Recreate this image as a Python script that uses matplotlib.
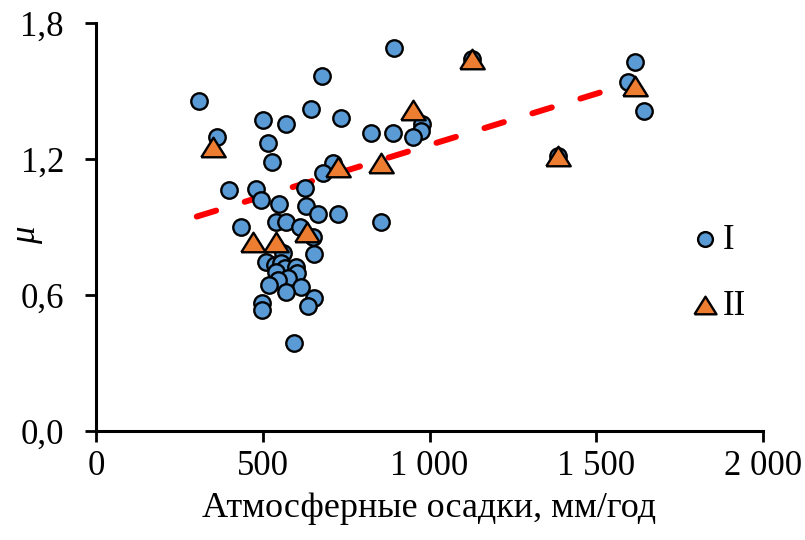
import numpy as np
import matplotlib.pyplot as plt

# series I (circles)
x1 = [308, 895, 677, 645, 501, 569, 735, 362, 515, 529, 825, 892, 978, 973, 950,
      710, 680, 398, 479, 496, 626, 549, 631, 667, 727, 855, 436, 541, 569, 611,
      652, 654, 561, 510, 536, 555, 566, 601, 541, 604, 576, 546, 519, 614, 570,
      655, 637, 497, 499, 593, 1126, 1615, 1595, 1642, 1384]
y1 = [1.457, 1.688, 1.566, 1.419, 1.372, 1.353, 1.379, 1.298, 1.269, 1.185, 1.313,
      1.313, 1.353, 1.323, 1.298, 1.181, 1.137, 1.063, 1.066, 1.019, 1.070, 1.001,
      0.994, 0.956, 0.956, 0.923, 0.898, 0.923, 0.923, 0.898, 0.857, 0.782, 0.784,
      0.747, 0.732, 0.740, 0.718, 0.725, 0.703, 0.696, 0.674, 0.666, 0.644, 0.637,
      0.612, 0.585, 0.551, 0.563, 0.534, 0.387, 1.639, 1.629, 1.541, 1.412, 1.213]

# series II (triangles)
x2 = [350, 471, 541, 634, 727, 855, 950, 1126, 1384, 1615]
y2 = [1.254, 0.835, 0.835, 0.879, 1.166, 1.181, 1.416, 1.639, 1.213, 1.522]

# trend line end points
trend_x = [302, 1615]
trend_y = [0.946, 1.540]

xticks = [0, 500, 1000, 1500, 2000]
xlabels = ['0', '500', '1 000', '1 500', '2 000']
yticks = [0.0, 0.6, 1.2, 1.8]
ylabels = ['0,0', '0,6', '1,2', '1,8']

plt.rcParams['font.family'] = ['Liberation Serif', 'DejaVu Serif']

fig = plt.figure(figsize=(8.05, 5.4), dpi=100)
ax = fig.add_axes([0.1193, 0.2019, 0.8285, 0.7555])

tri = [(-1, -0.8), (1, -0.8), (0, 0.8), (-1, -0.8)]

ax.plot(trend_x, trend_y, color='#FF0000', lw=4.3, ls=(0, (3.4, 5.0)),
        dash_capstyle='round', zorder=2)
ax.scatter(x1, y1, s=140, c='#5B9BD5', edgecolors='black', linewidths=1.7,
           zorder=3, label='I')
ax.scatter(x2, y2, s=310, marker=tri, c='#ED7D31', edgecolors='black',
           linewidths=1.7, zorder=4, label='II')

ax.set_xlim(0, 2000)
ax.set_ylim(0, 1.8)
ax.set_xticks(xticks)
ax.set_xticklabels(xlabels)
ax.set_yticks(yticks)
ax.set_yticklabels(ylabels)
ax.tick_params(labelsize=25, width=2, length=8, direction='out')
ax.tick_params(axis='x', pad=6)
ax.tick_params(axis='y', pad=15)
ax.spines['top'].set_visible(False)
ax.spines['right'].set_visible(False)
ax.spines['left'].set_linewidth(2.2)
ax.spines['bottom'].set_linewidth(2.2)

ax.set_xlabel('Атмосферные осадки, мм/год', fontsize=26, labelpad=6)
ax.set_ylabel('μ', fontsize=25, fontstyle='italic')
ax.yaxis.set_label_coords(-0.08, 0.48)

ax.legend(loc='upper left', bbox_to_anchor=(0.846, 0.585), frameon=False,
          fontsize=25, handlelength=0.8, handletextpad=0.1, labelspacing=0.95,
          scatterpoints=1, markerscale=0.9)

fig.savefig('out.png', dpi=100)
